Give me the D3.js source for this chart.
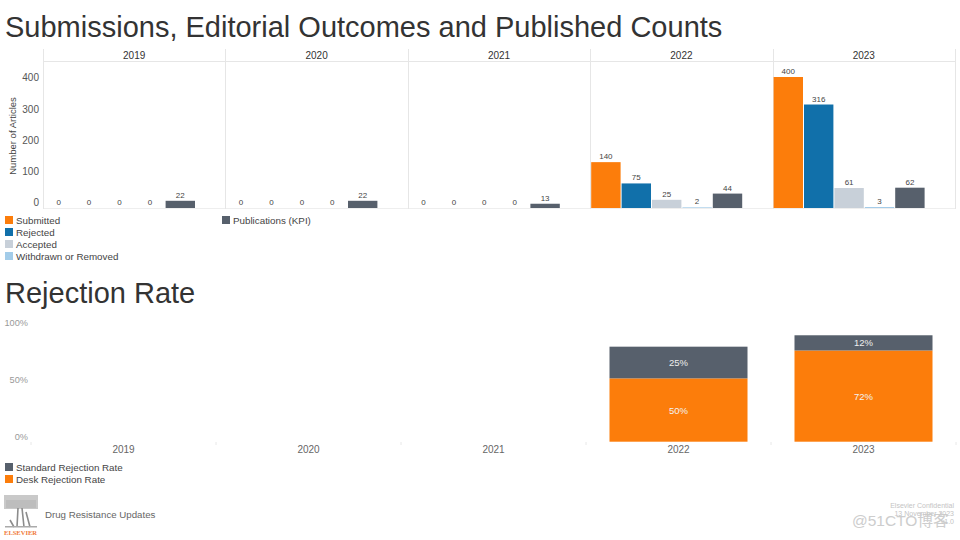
<!DOCTYPE html>
<html>
<head>
<meta charset="utf-8">
<script src="https://cdn.jsdelivr.net/npm/d3@7"></script>
<style>
  html,body{margin:0;padding:0;background:#fff;}
  svg{display:block;font-family:"Liberation Sans",Arial,sans-serif;}
</style>
</head>
<body>
<svg id="chart" width="960" height="540"></svg>
<script>
/* ===== Data ===== */
const years = ['2019','2020','2021','2022','2023'];
const seriesNames = ['Submitted','Rejected','Accepted','Withdrawn or Removed','Publications (KPI)'];
const submitted    = [0, 0, 0, 140, 400];
const rejected     = [0, 0, 0, 75, 316];
const accepted     = [0, 0, 0, 25, 61];
const withdrawn    = [0, 0, 0, 2, 3];
const publications = [22, 22, 13, 44, 62];
const countTicks   = [0, 100, 200, 300, 400];

const deskRate     = [null, null, null, 0.50, 0.72];
const standardRate = [null, null, null, 0.25, 0.12];
const rateTicks    = [0, 0.5, 1];

const colors = {
  'Submitted':'#fc7d0b', 'Rejected':'#1170aa', 'Accepted':'#c8d0d9',
  'Withdrawn or Removed':'#a3cce9', 'Publications (KPI)':'#57606c'
};
const rateColors = {standard:'#57606c', desk:'#fc7d0b'};

const svg = d3.select('#chart');
const gridC = '#e6e6e6';

/* ===== Titles ===== */
svg.append('text').attr('x',5).attr('y',37).attr('font-size',29).attr('fill','#333')
  .text('Submissions, Editorial Outcomes and Published Counts');
svg.append('text').attr('x',5).attr('y',303).attr('font-size',29).attr('fill','#333')
  .text('Rejection Rate');

/* ===== Top: faceted grouped bars ===== */
function drawCounts(){
  const g = svg.append('g');
  const panel = d3.scaleBand().domain(years).range([43,955]);
  const pw = panel.bandwidth();
  const inner = d3.scaleBand().domain(seriesNames).range([0, pw*5/6]);
  const y = d3.scaleLinear().domain([0,400]).range([208,77]);
  const yLab = d3.scaleLinear().domain([0,400]).range([202.7,77.7]);

  // header strip + panel borders
  g.append('line').attr('x1',43).attr('x2',955).attr('y1',61.5).attr('y2',61.5).attr('stroke',gridC);
  g.append('line').attr('x1',43).attr('x2',955).attr('y1',208.5).attr('y2',208.5).attr('stroke','#eee');
  years.concat(['end']).forEach((yr,i)=>{
    const x = Math.round(43 + i*pw) + 0.5;
    g.append('line').attr('x1',x).attr('x2',x).attr('y1',49).attr('y2',209).attr('stroke',gridC);
  });
  g.selectAll('.hdr').data(years).enter().append('text')
    .attr('x',d=>panel(d)+pw/2).attr('y',58.5).attr('text-anchor','middle')
    .attr('font-size',10).attr('fill','#333').text(d=>d);

  // y axis
  const yA = g.append('g').attr('transform','translate(40,0)')
    .call(d3.axisLeft(yLab).tickValues(countTicks).tickSize(0).tickPadding(1));
  yA.select('.domain').remove();
  yA.selectAll('text').attr('font-size',10).attr('fill','#555').attr('font-family','"Liberation Sans",Arial,sans-serif');
  g.append('text').attr('transform','translate(16,136) rotate(-90)').attr('text-anchor','middle')
    .attr('font-size',9.5).attr('fill','#444').text('Number of Articles');

  const vals = [submitted, rejected, accepted, withdrawn, publications];
  const data = [];
  years.forEach((yr,i)=> seriesNames.forEach((s,j)=> data.push({yr, s, v: vals[j][i]})));

  g.selectAll('.bar').data(data.filter(d=>d.v>0)).enter().append('rect')
    .attr('x',d=>panel(d.yr)+inner(d.s)+1).attr('width',inner.bandwidth()-1)
    .attr('y',d=>y(d.v)).attr('height',d=>y(0)-y(d.v)).attr('fill',d=>colors[d.s]);
  g.selectAll('.lbl').data(data).enter().append('text')
    .attr('x',d=>panel(d.yr)+inner(d.s)+inner.bandwidth()/2+0.5).attr('y',d=>y(d.v)-3)
    .attr('text-anchor','middle').attr('font-size',8).attr('fill','#444').text(d=>d.v);

  // legend
  const leg = [[seriesNames[0],5,220],[seriesNames[1],5,232],[seriesNames[2],5,244],[seriesNames[3],5,256],[seriesNames[4],222,220]];
  leg.forEach(([name,x,cy])=>{
    g.append('rect').attr('x',x).attr('y',cy-4).attr('width',8).attr('height',8).attr('fill',colors[name]);
    g.append('text').attr('x',x+11).attr('y',cy+3.5).attr('font-size',9.8).attr('fill','#444').text(name);
  });
}

/* ===== Bottom: stacked rejection rate ===== */
function drawRates(){
  const g = svg.append('g');
  const x = d3.scaleBand().domain(years).range([31,956]).paddingInner(0.254).paddingOuter(0.127);
  const y = d3.scaleLinear().domain([0,1]).range([441.7,315]);
  const yLab = d3.scaleLinear().domain([0,1]).range([436.7,322.5]);

  const yA = g.append('g').attr('transform','translate(28,0)')
    .call(d3.axisLeft(yLab).tickValues(rateTicks).tickFormat(d3.format('.0%')).tickSize(0).tickPadding(0));
  yA.select('.domain').remove();
  yA.selectAll('text').attr('font-size',9.2).attr('fill','#999').attr('font-family','"Liberation Sans",Arial,sans-serif');

  const xA = g.append('g').attr('transform','translate(0,441)')
    .call(d3.axisBottom(x).tickSize(0).tickPadding(5));
  xA.select('.domain').remove();
  xA.selectAll('text').attr('font-size',10).attr('fill','#666').attr('font-family','"Liberation Sans",Arial,sans-serif');

  // faint separators between categories
  const step = x.step();
  d3.range(years.length+1).forEach(i=>{
    const sx = 31 + i*step;
    g.append('line').attr('x1',sx).attr('x2',sx).attr('y1',442).attr('y2',445).attr('stroke','#e8e8e8');
  });

  const rows = years.map((yr,i)=>({yr, desk:deskRate[i], std:standardRate[i]})).filter(d=>d.desk!=null);
  rows.forEach(d=>{
    g.append('rect').attr('x',x(d.yr)).attr('width',x.bandwidth())
      .attr('y',y(d.desk)).attr('height',y(0)-y(d.desk)).attr('fill',rateColors.desk);
    g.append('rect').attr('x',x(d.yr)).attr('width',x.bandwidth())
      .attr('y',y(d.desk+d.std)).attr('height',y(d.desk)-y(d.desk+d.std)).attr('fill',rateColors.standard);
    g.append('text').attr('x',x(d.yr)+x.bandwidth()/2).attr('y',(y(0)+y(d.desk))/2+3.5)
      .attr('text-anchor','middle').attr('font-size',9.5).attr('fill','#f3f3f3').text(d3.format('.0%')(d.desk));
    g.append('text').attr('x',x(d.yr)+x.bandwidth()/2).attr('y',(y(d.desk)+y(d.desk+d.std))/2+3.5)
      .attr('text-anchor','middle').attr('font-size',9.5).attr('fill','#eee').text(d3.format('.0%')(d.std));
  });

  const leg = [['Standard Rejection Rate',rateColors.standard,467],['Desk Rejection Rate',rateColors.desk,479]];
  leg.forEach(([name,c,cy])=>{
    g.append('rect').attr('x',5).attr('y',cy-4).attr('width',8).attr('height',8).attr('fill',c);
    g.append('text').attr('x',16).attr('y',cy+3.5).attr('font-size',9.8).attr('fill','#444').text(name);
  });
}

/* ===== Footer ===== */
function drawFooter(){
  const g = svg.append('g');
  // rough Elsevier tree mark
  g.append('rect').attr('x',4).attr('y',495).attr('width',34).attr('height',14).attr('fill','#c9c9c9');
  g.append('rect').attr('x',6).attr('y',500).attr('width',30).attr('height',8).attr('fill','#b5b5b5').attr('opacity',0.6);
  g.append('path').attr('d','M18,508 L17,527 M22,508 L24,527 M26,512 L30,527 M10,520 L14,527')
    .attr('stroke','#8c8c8c').attr('stroke-width',1.6).attr('fill','none');
  g.append('rect').attr('x',5).attr('y',526).attr('width',32).attr('height',1.5).attr('fill','#aaa');
  g.append('text').attr('x',20.5).attr('y',535).attr('text-anchor','middle').attr('font-size',6.5)
    .attr('font-family','"Liberation Serif",serif').attr('font-weight','bold').attr('fill','#f07a3a').text('ELSEVIER');
  g.append('text').attr('x',45).attr('y',517.5).attr('font-size',9.7).attr('fill','#666').text('Drug Resistance Updates');

  g.append('text').attr('x',954).attr('y',508).attr('text-anchor','end').attr('font-size',7).attr('fill','#c4c4c4').text('Elsevier Confidential');
  g.append('text').attr('x',954).attr('y',516).attr('text-anchor','end').attr('font-size',7).attr('fill','#c4c4c4').text('13 November 2023');
  g.append('text').attr('x',954).attr('y',524).attr('text-anchor','end').attr('font-size',7).attr('fill','#c4c4c4').text('v1.0');
  g.append('text').attr('x',852).attr('y',526).attr('font-size',15.5).attr('fill','#c8c8c8').attr('opacity',0.9)
    .attr('font-family','"Liberation Sans","Noto Sans CJK SC",sans-serif').text('@51CTO博客');
}

drawCounts();
drawRates();
drawFooter();
</script>
</body>
</html>
